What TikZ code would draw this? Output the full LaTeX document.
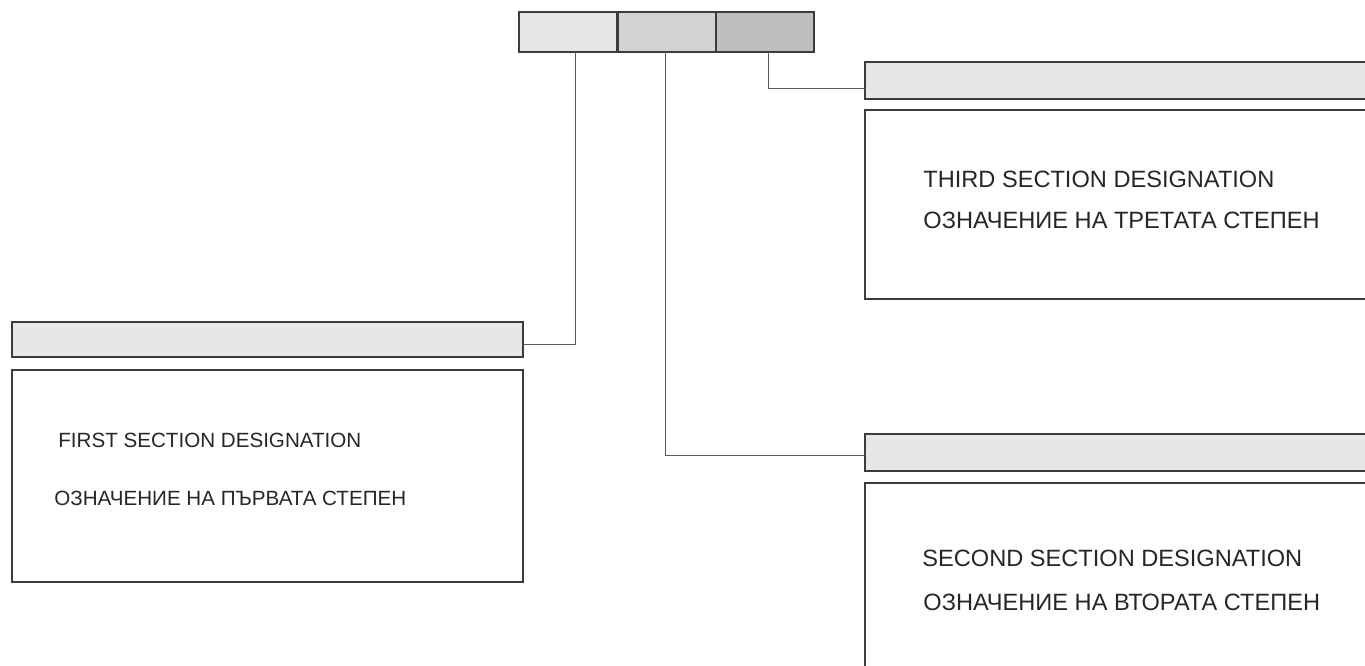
\documentclass[tikz,border=0pt]{standalone}
\usepackage{fontspec}
\setmainfont{Liberation Sans}
\definecolor{keyA}{HTML}{E6E7E8}
\definecolor{keyB}{HTML}{D1D3D4}
\definecolor{keyC}{HTML}{BCBEC0}
\definecolor{edge}{HTML}{3C3C3C}
\definecolor{wire}{HTML}{5A5A5A}
\tikzset{
  keybox/.style={draw=edge, line width=0.75pt, inner sep=0pt, anchor=north west,
    minimum width=49pt, minimum height=20pt},
  headbar/.style={draw=edge, fill=keyA, line width=0.75pt, inner sep=0pt, anchor=north west},
  bodybox/.style={draw=edge, line width=0.75pt, inner sep=0pt, anchor=north west},
  label/.style={inner sep=0pt, anchor=west, text=black!85},
  smalltext/.style={label, font=\fontsize{10.3}{12}\selectfont},
  bigtext/.style={label, font=\fontsize{11.8}{14}\selectfont},
  link/.style={draw=wire, line width=0.5pt}
}
\begin{document}
\begin{tikzpicture}[x=0.5pt,y=-0.5pt,line cap=rect,line join=miter]
  \clip (0,0) rectangle (1365,665);
  % code boxes
  \node[keybox, fill=keyA] (k1) at (518,11) {};
  \node[keybox, fill=keyB] (k2) at (617,11) {};
  \node[keybox, fill=keyC] (k3) at (715,11) {};
  % first section
  \node[headbar, minimum width=255.5pt, minimum height=17.5pt] (h1) at (11,321) {};
  \node[bodybox, minimum width=255.5pt, minimum height=106pt] (b1) at (11,369) {};
  \node[smalltext] (t1) at (58,440) {FIRST SECTION DESIGNATION};
  \node[smalltext] (c1) at (54,498) {ОЗНАЧЕНИЕ НА ПЪРВАТА СТЕПЕН};
  % third section
  \node[headbar, minimum width=300pt, minimum height=18.5pt] (h3) at (864,61) {};
  \node[bodybox, minimum width=300pt, minimum height=94.5pt] (b3) at (864,109) {};
  \node[bigtext] (t3) at (923,179) {THIRD SECTION DESIGNATION};
  \node[bigtext] (c3) at (923,220) {ОЗНАЧЕНИЕ НА ТРЕТАТА СТЕПЕН};
  % second section
  \node[headbar, minimum width=300pt, minimum height=18.5pt] (h2) at (864,433) {};
  \node[bodybox, minimum width=300pt, minimum height=110pt] (b2) at (864,482) {};
  \node[bigtext] (t2) at (922,558) {SECOND SECTION DESIGNATION};
  \node[bigtext] (c2) at (923,602) {ОЗНАЧЕНИЕ НА ВТОРАТА СТЕПЕН};
  % leaders
  \draw[link] ([xshift=3.75pt]k1.south) |- ([yshift=-2.5pt]h1.east);
  \draw[link] ([xshift=-0.5pt]k2.south) |- ([yshift=-1.75pt]h2.west);
  \draw[link] ([xshift=2pt]k3.south) |- ([yshift=-4.25pt]h3.west);
\end{tikzpicture}
\end{document}
